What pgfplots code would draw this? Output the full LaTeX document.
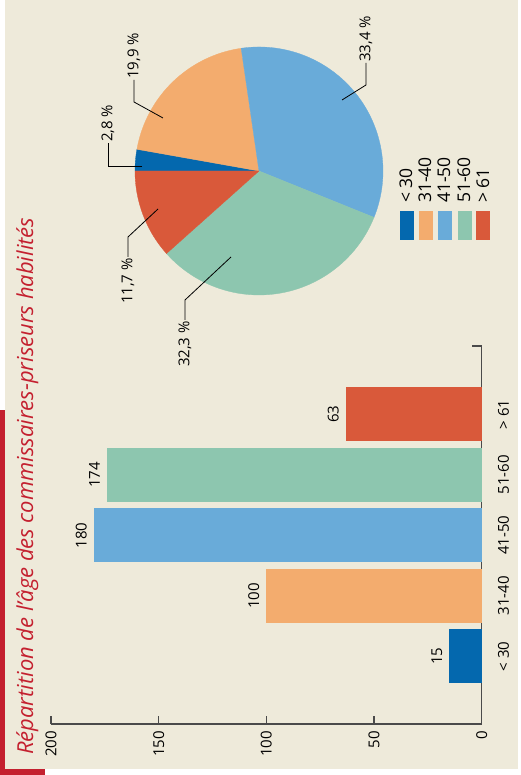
\documentclass[border=0pt]{standalone}
\usepackage{fontspec}
\setmainfont{Open Sans}
\usepackage{pgfplots}
\pgfplotsset{compat=1.18}
\definecolor{bg}{HTML}{EEEADA}
\definecolor{cA}{HTML}{0468AE}
\definecolor{cB}{HTML}{F3AC6E}
\definecolor{cC}{HTML}{69ABD9}
\definecolor{cD}{HTML}{8DC6AF}
\definecolor{cE}{HTML}{D9593A}
\definecolor{tred}{HTML}{C4202F}
\definecolor{axgray}{HTML}{4A4A4A}
\newcommand\lab{\fontsize{15bp}{17bp}\selectfont}
\newcommand\leg{\fontsize{17.5bp}{20bp}\selectfont}
\begin{document}
\begin{tikzpicture}[x=1bp,y=1bp]
\fill[white] (0,0) rectangle (518,775);
\fill[bg] (5,6) rectangle (518,775);
\fill[tred] (0,0) rectangle (5,365);
\fill[tred] (0,0) rectangle (45,6);
\node[rotate=90, anchor=base west, inner sep=0pt, text=tred, font=\fontsize{22bp}{26bp}\selectfont\itshape] at (33,20) {Répartition de l'âge des commissaires-priseurs habilités};

\begin{axis}[
  at={(51bp,51bp)}, anchor=south west,
  scale only axis, width=430.7bp, height=378bp,
  xbar, bar width=54.3bp, bar shift=0pt,
  x dir=reverse,
  xmin=0, xmax=200, ymin=-1.12, ymax=5.13,
  enlargelimits=false,
  axis x line=bottom, axis y line=right,
  axis line style={axgray, line width=1.2bp, -},
  /pgf/number format/assume math mode=true,
  xtick={0,50,100,150,200},
  xtick align=inside, major tick length=8bp,
  xtick style={axgray, line width=1.2bp},
  xticklabel style={rotate=90, anchor=east, inner xsep=7bp, inner ysep=0pt, font=\lab},
  ytick={0,1,2,3,4},
  yticklabels={{< 30},{31-40},{41-50},{51-60},{> 61}},
  ytick style={draw=none},
  yticklabel style={rotate=90, anchor=north, inner ysep=12bp, font=\lab},
  point meta=x,
  nodes near coords,
  every node near coord/.append style={rotate=90, anchor=south, inner ysep=7bp, font=\lab, text=black},
  clip=false,
]
\addplot[fill=cA, draw=none] coordinates {(15,0)};
\addplot[fill=cB, draw=none] coordinates {(100,1)};
\addplot[fill=cC, draw=none] coordinates {(180,2)};
\addplot[fill=cD, draw=none] coordinates {(174,3)};
\addplot[fill=cE, draw=none] coordinates {(63,4)};
\draw[axgray, line width=1.2bp] (axis cs:0,5.13) -- (axis cs:4.6,5.13);
\end{axis}

\begin{axis}[
  at={(259bp,604bp)}, anchor=center,
  x=124bp, y=124bp, xmin=-1, xmax=1, ymin=-1, ymax=1,
  hide axis, clip=false,
]
\addplot[fill=cA, draw=cA, line width=0.3bp, domain=169.92:180, samples=10, variable=\t] ({cos(t)},{sin(t)}) -- (axis cs:0,0) -- cycle;
\addplot[fill=cB, draw=cB, line width=0.3bp, domain=98.28:169.92, samples=50, variable=\t] ({cos(t)},{sin(t)}) -- (axis cs:0,0) -- cycle;
\addplot[fill=cC, draw=cC, line width=0.3bp, domain=-21.96:98.28, samples=80, variable=\t] ({cos(t)},{sin(t)}) -- (axis cs:0,0) -- cycle;
\addplot[fill=cD, draw=cD, line width=0.3bp, domain=-138.24:-21.96, samples=80, variable=\t] ({cos(t)},{sin(t)}) -- (axis cs:0,0) -- cycle;
\addplot[fill=cE, draw=cE, line width=0.3bp, domain=180:221.76, samples=30, variable=\t] ({cos(t)},{sin(t)}) -- (axis cs:0,0) -- cycle;
\end{axis}

% leader lines and labels
\draw[black, line width=0.8bp] (342,675) -- (366,690) -- (366,712);
\node[rotate=90, anchor=west, inner sep=1bp, font=\lab] at (366,712) {33,4 \%};
\draw[black, line width=0.8bp] (163,657) -- (134,673) -- (134,695);
\node[rotate=90, anchor=west, inner sep=1bp, font=\lab] at (134,695) {19,9 \%};
\draw[black, line width=0.8bp] (142,609) -- (108,609) -- (108,632);
\node[rotate=90, anchor=west, inner sep=1bp, font=\lab] at (108,632) {2,8 \%};
\draw[black, line width=0.8bp] (158,566) -- (128,538) -- (128,518);
\node[rotate=90, anchor=east, inner sep=1bp, font=\lab] at (128,518) {11,7 \%};
\draw[black, line width=0.8bp] (231,518) -- (185,475) -- (185,455);
\node[rotate=90, anchor=east, inner sep=1bp, font=\lab] at (185,455) {32,3 \%};

% legend
\fill[cA] (400,535) rectangle (414,564.3);
\fill[cB] (418.7,535) rectangle (432.7,564.3);
\fill[cC] (437.7,535) rectangle (451.7,564.3);
\fill[cD] (457.7,535) rectangle (471.7,564.3);
\fill[cE] (476,535) rectangle (490,564.3);
\node[rotate=90, anchor=base west, inner sep=0pt, font=\leg] at (412,572) {< 30};
\node[rotate=90, anchor=base west, inner sep=0pt, font=\leg] at (431,572) {31-40};
\node[rotate=90, anchor=base west, inner sep=0pt, font=\leg] at (450,572) {41-50};
\node[rotate=90, anchor=base west, inner sep=0pt, font=\leg] at (470,572) {51-60};
\node[rotate=90, anchor=base west, inner sep=0pt, font=\leg] at (489,572) {> 61};
\end{tikzpicture}
\end{document}
